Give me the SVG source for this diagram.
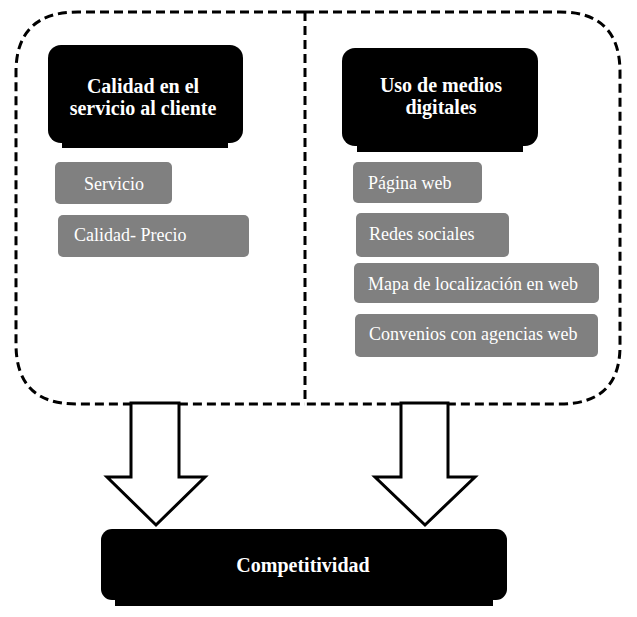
<svg xmlns="http://www.w3.org/2000/svg" width="637" height="617" viewBox="0 0 637 617">
<style>
.dash{fill:none;stroke:#000;stroke-width:3;stroke-dasharray:9 5}
.blk{fill:#000}
.gry{fill:#808080}
.ht{font-family:"Liberation Serif",serif;font-weight:bold;font-size:20px;fill:#fff;text-anchor:middle}
.gt{font-family:"Liberation Serif",serif;font-size:18px;fill:#fff}
.arr{fill:#fff;stroke:#000;stroke-width:3;stroke-linejoin:miter}
</style>
<rect width="637" height="617" fill="#fff"/>
<g id="frame">
<path class="dash" d="M305,12 L78,12 Q16,12 16,72 L16,344 Q16,404 76,404 L305,404"/>
<path class="dash" d="M305,12 L560,12 Q620,12 620,72 L620,346 Q620,404 560,404 L305,404"/>
<path class="dash" d="M305,12 L305,404"/>
</g>
<g id="n_calidad">
<rect class="blk" x="48" y="45" width="195" height="98" rx="13"/>
<rect class="blk" x="62" y="128" width="166" height="20"/>
<text class="ht" x="143" y="93">Calidad en el</text>
<text class="ht" x="143" y="115">servicio al cliente</text>
</g>
<g id="n_servicio">
<rect class="gry" x="55" y="162" width="117" height="42" rx="5"/>
<text class="gt" x="84" y="190">Servicio</text>
</g>
<g id="n_calprecio">
<rect class="gry" x="58" y="215" width="191" height="42" rx="5"/>
<text class="gt" x="74" y="241">Calidad- Precio</text>
</g>
<g id="n_uso">
<rect class="blk" x="342" y="48" width="196" height="98" rx="13"/>
<rect class="blk" x="357" y="131" width="166" height="21"/>
<text class="ht" x="441" y="92">Uso de medios</text>
<text class="ht" x="441" y="114">digitales</text>
</g>
<g id="n_pagina">
<rect class="gry" x="353" y="162" width="129" height="41" rx="5"/>
<text class="gt" x="368" y="189">Página web</text>
</g>
<g id="n_redes">
<rect class="gry" x="356" y="213" width="153" height="44" rx="5"/>
<text class="gt" x="369" y="240">Redes sociales</text>
</g>
<g id="n_mapa">
<rect class="gry" x="354" y="263" width="245" height="40" rx="5"/>
<text class="gt" x="368" y="290">Mapa de localización en web</text>
</g>
<g id="n_convenios">
<rect class="gry" x="355" y="314" width="243" height="43" rx="5"/>
<text class="gt" x="369" y="340">Convenios con agencias web</text>
</g>
<g id="connectors">
<path class="arr" d="M131,403 L179,403 L179,477 L205,477 L156,525 L107,477 L131,477 Z"/>
<path class="arr" d="M401,403 L448,403 L448,477 L475,477 L425,525 L375,477 L401,477 Z"/>
</g>
<g id="n_compet">
<rect class="blk" x="101" y="529" width="406" height="71" rx="11"/>
<rect class="blk" x="115" y="590" width="378" height="16"/>
<text class="ht" x="303" y="572">Competitividad</text>
</g>
</svg>
